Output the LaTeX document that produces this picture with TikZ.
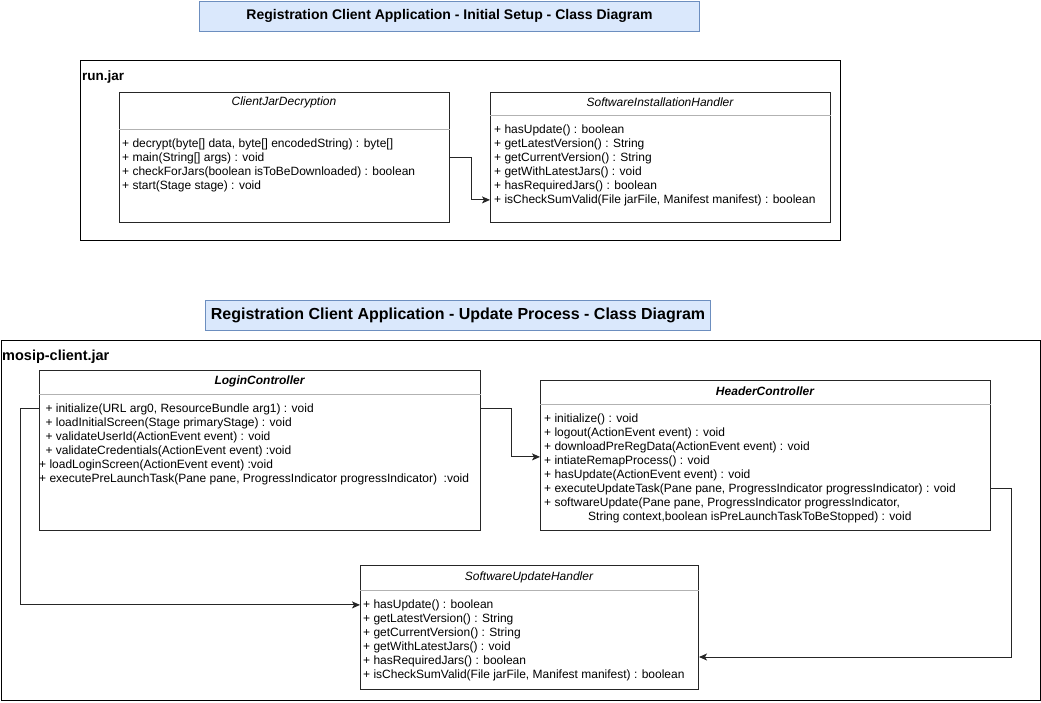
\documentclass[tikz,border=0pt]{standalone}
\usepackage{fontspec}
\setmainfont{Liberation Sans}
\usetikzlibrary{arrows.meta,calc}
\definecolor{tfill}{HTML}{DAE8FC}
\definecolor{tdraw}{HTML}{6C8EBF}
\begin{document}
\begin{tikzpicture}[x=1pt,y=-1pt,
  titlebox/.style={draw=tdraw, fill=tfill, line width=1pt, inner sep=0, anchor=north west},
  framebox/.style={draw=black, line width=1pt, inner sep=0, anchor=north west},
  framelabel/.style={anchor=base west, inner sep=0},
  cls/.style={draw=black!85, line width=1pt, anchor=north west, inner sep=0},
  clsname/.style={inner sep=0, font=\itshape\fontsize{12}{14}\selectfont},
  clsnameb/.style={inner sep=0, font=\bfseries\itshape\fontsize{12}{14}\selectfont},
  sepline/.style={draw=black!30, line width=0.8pt},
  meth/.style={anchor=base west, inner sep=0, font=\fontsize{12}{14}\selectfont},
  conn/.style={draw=black!85, line width=1pt, -{Stealth[length=8pt,width=7pt,inset=2pt]}}
]
\useasboundingbox (0,0) rectangle (1041,702);

% ---------- Initial setup ----------
\node[titlebox, minimum width=500, minimum height=30] (t1) at (199,0.5) {};
\node[font=\bfseries\fontsize{14}{16}\selectfont, inner sep=0] (t1txt) at (t1.center) {Registration Client Application - Initial Setup - Class Diagram};

\node[framebox, minimum width=760, minimum height=180] (runjar) at (80,60) {};
\node[framelabel, font=\bfseries\fontsize{13.5}{16}\selectfont] (runjarlbl) at (82,80) {run.jar};

\node[cls, minimum width=330, minimum height=130] (cjd) at (119,92) {};
\node[clsname] (cjdname) at (284,102) {ClientJarDecryption};
\draw[sepline] (cjd.west |- 0,129) -- (cjd.east |- 0,129);
\node[meth] (cjdm1) at (122,147) {+ decrypt(byte[] data, byte[] encodedString) : byte[]};
\node[meth] (cjdm2) at (122,161) {+ main(String[] args) : void};
\node[meth] (cjdm3) at (122,175) {+ checkForJars(boolean isToBeDownloaded) : boolean};
\node[meth] (cjdm4) at (122,189) {+ start(Stage stage) : void};

\node[cls, minimum width=340, minimum height=130] (sih) at (490,92) {};
\node[clsname] (sihname) at (660,102) {SoftwareInstallationHandler};
\draw[sepline] (sih.west |- 0,115) -- (sih.east |- 0,115);
\node[meth] (sihm1) at (494,133) {+ hasUpdate() : boolean};
\node[meth] (sihm2) at (494,147) {+ getLatestVersion() : String};
\node[meth] (sihm3) at (494,161) {+ getCurrentVersion() : String};
\node[meth] (sihm4) at (494,175) {+ getWithLatestJars() : void};
\node[meth] (sihm5) at (494,189) {+ hasRequiredJars() : boolean};
\node[meth] (sihm6) at (494,203) {+ isCheckSumValid(File jarFile, Manifest manifest) : boolean};

\draw[conn] (cjd.east |- cjdm2) -- ++(21,0) |- (sih.west |- sihm6);

% ---------- Update process ----------
\node[titlebox, minimum width=505, minimum height=30] (t2) at (205,300) {};
\node[font=\bfseries\fontsize{16}{18}\selectfont, inner sep=0] (t2txt) at (t2.center) {Registration Client Application - Update Process - Class Diagram};

\node[framebox, minimum width=1039.5, minimum height=360] (mosip) at (0.5,340) {};
\node[framelabel, font=\bfseries\fontsize{14.5}{16}\selectfont] (mosiplbl) at (2,360) {mosip-client.jar};

\node[cls, minimum width=441, minimum height=160] (lc) at (39,370) {};
\node[clsnameb] (lcname) at (259.5,381) {LoginController};
\draw[sepline] (lc.west |- 0,394) -- (lc.east |- 0,394);
\node[meth] (lcm1) at (42,412) {\ + initialize(URL arg0, ResourceBundle arg1) : void};
\node[meth] (lcm2) at (42,426) {\ + loadInitialScreen(Stage primaryStage) : void};
\node[meth] (lcm3) at (42,440) {\ + validateUserId(ActionEvent event) : void};
\node[meth] (lcm4) at (42,454) {\ + validateCredentials(ActionEvent event) :void};
\node[meth] (lcm5) at (39,468) {+ loadLoginScreen(ActionEvent event) :void};
\node[meth] (lcm6) at (39,482) {+ executePreLaunchTask(Pane pane, ProgressIndicator progressIndicator)\ \ :void};

\node[cls, minimum width=450, minimum height=150] (hc) at (540,380) {};
\node[clsnameb] (hcname) at (765,391) {HeaderController};
\draw[sepline] (hc.west |- 0,404) -- (hc.east |- 0,404);
\node[meth] (hcm1) at (544,422) {+ initialize() : void};
\node[meth] (hcm2) at (544,436) {+ logout(ActionEvent event) : void};
\node[meth] (hcm3) at (544,450) {+ downloadPreRegData(ActionEvent event) : void};
\node[meth] (hcm4) at (544,464) {+ intiateRemapProcess() : void};
\node[meth] (hcm5) at (544,478) {+ hasUpdate(ActionEvent event) : void};
\node[meth] (hcm6) at (544,492) {+ executeUpdateTask(Pane pane, ProgressIndicator progressIndicator) : void};
\node[meth] (hcm7) at (544,506) {+ softwareUpdate(Pane pane, ProgressIndicator progressIndicator,};
\node[meth] (hcm8) at (588,520) {String context,boolean isPreLaunchTaskToBeStopped) : void};

\node[cls, minimum width=338, minimum height=124] (suh) at (360,565) {};
\node[clsname] (suhname) at (529,577) {SoftwareUpdateHandler};
\draw[sepline] (suh.west |- 0,590) -- (suh.east |- 0,590);
\node[meth] (suhm1) at (363,608) {+ hasUpdate() : boolean};
\node[meth] (suhm2) at (363,622) {+ getLatestVersion() : String};
\node[meth] (suhm3) at (363,636) {+ getCurrentVersion() : String};
\node[meth] (suhm4) at (363,650) {+ getWithLatestJars() : void};
\node[meth] (suhm5) at (363,664) {+ hasRequiredJars() : boolean};
\node[meth] (suhm6) at (363,678) {+ isCheckSumValid(File jarFile, Manifest manifest) : boolean};

\draw[conn] (lc.east |- lcm1) -- ++(30,0) |- ($(hc.west |- hcm4)+(0,-4)$);
\draw[conn] (lc.west |- lcm1) -- ++(-19,0) |- (suh.west |- suhm1);
\draw[conn] (hc.east |- hcm6) -- ++(20,0) |- (suh.east |- 0,657);
\end{tikzpicture}
\end{document}
